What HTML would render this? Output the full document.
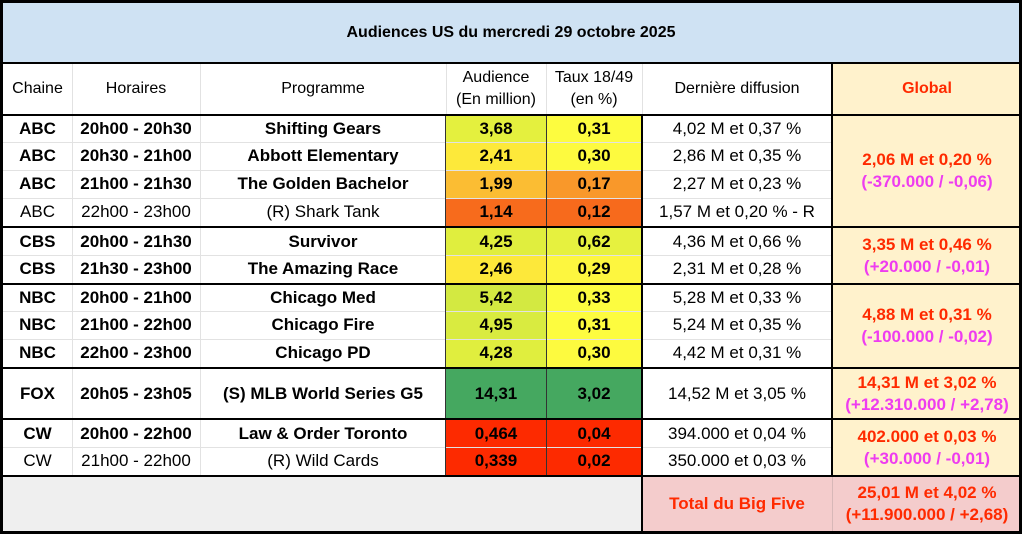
<!DOCTYPE html>
<html><head><meta charset="utf-8"><style>
body{margin:0;width:1022px;height:534px;background:#fff;position:relative;overflow:hidden;font-family:"Liberation Sans",Arial,sans-serif;color:#000}
.c{position:absolute;display:flex;align-items:center;justify-content:center;text-align:center;font-size:17px;line-height:22px;box-sizing:border-box;white-space:nowrap}
.b{font-weight:bold}
.h{position:absolute;background:#e2e2e2;height:1px}
.v{position:absolute;background:#e2e2e2;width:1px}
.k{background:#000}
.r{color:#ff2a00;font-weight:bold}
.m{color:#ee3cf0;font-weight:bold}
.hd{font-size:16px}
</style></head><body>
<div class="c" style="left:0;top:0;width:1022px;height:63px;background:#cfe2f3;font-weight:bold;font-size:16px;padding-top:2px">Audiences US du mercredi 29 octobre 2025</div>
<div class="c" style="left:832px;top:63px;width:190px;height:414px;background:#fff2cc"></div>
<div class="c" style="left:0;top:477px;width:642px;height:57px;background:#efefef"></div>
<div class="c" style="left:642px;top:477px;width:380px;height:57px;background:#f4cccc"></div>

<div class="c hd" style="left:3px;top:64px;width:69px;height:50px">Chaine</div>
<div class="c hd" style="left:72px;top:64px;width:128px;height:50px">Horaires</div>
<div class="c hd" style="left:200px;top:64px;width:246px;height:50px">Programme</div>
<div class="c hd" style="left:446px;top:64px;width:100px;height:50px">Audience<br>(En million)</div>
<div class="c hd" style="left:546px;top:64px;width:96px;height:50px">Taux 18/49<br>(en %)</div>
<div class="c hd" style="left:642px;top:64px;width:190px;height:50px">Dernière diffusion</div>
<div class="c r hd" style="left:832px;top:64px;width:190px;height:50px">Global</div>

<div class="c b" style="left:3px;top:116px;width:69px;height:26px">ABC</div><div class="c b" style="left:72px;top:116px;width:128px;height:26px">20h00 - 20h30</div><div class="c b" style="left:200px;top:116px;width:246px;height:26px">Shifting Gears</div><div class="c b" style="left:446px;top:116px;width:100px;height:26px;background:#e4f03e">3,68</div><div class="c b" style="left:546px;top:116px;width:96px;height:26px;background:#fdfc3f">0,31</div><div class="c" style="left:642px;top:116px;width:190px;height:26px">4,02 M et 0,37 %</div>
<div class="c b" style="left:3px;top:142px;width:69px;height:28px">ABC</div><div class="c b" style="left:72px;top:142px;width:128px;height:28px">20h30 - 21h00</div><div class="c b" style="left:200px;top:142px;width:246px;height:28px">Abbott Elementary</div><div class="c b" style="left:446px;top:142px;width:100px;height:28px;background:#fde93a">2,41</div><div class="c b" style="left:546px;top:142px;width:96px;height:28px;background:#fdfa3f">0,30</div><div class="c" style="left:642px;top:142px;width:190px;height:28px">2,86 M et 0,35 %</div>
<div class="c b" style="left:3px;top:170px;width:69px;height:28px">ABC</div><div class="c b" style="left:72px;top:170px;width:128px;height:28px">21h00 - 21h30</div><div class="c b" style="left:200px;top:170px;width:246px;height:28px">The Golden Bachelor</div><div class="c b" style="left:446px;top:170px;width:100px;height:28px;background:#fbbd33">1,99</div><div class="c b" style="left:546px;top:170px;width:96px;height:28px;background:#f9982a">0,17</div><div class="c" style="left:642px;top:170px;width:190px;height:28px">2,27 M et 0,23 %</div>
<div class="c" style="left:3px;top:198px;width:69px;height:28px">ABC</div><div class="c" style="left:72px;top:198px;width:128px;height:28px">22h00 - 23h00</div><div class="c" style="left:200px;top:198px;width:246px;height:28px">(R) Shark Tank</div><div class="c b" style="left:446px;top:198px;width:100px;height:28px;background:#f76b1c">1,14</div><div class="c b" style="left:546px;top:198px;width:96px;height:28px;background:#f76a1c">0,12</div><div class="c" style="left:642px;top:198px;width:190px;height:28px">1,57 M et 0,20 % - R</div>
<div class="c" style="left:832px;top:116px;width:190px;height:110px"><div><span class="r">2,06 M et 0,20 %</span><br><span class="m">(-370.000 / -0,06)</span></div></div>

<div class="c b" style="left:3px;top:228px;width:69px;height:27px">CBS</div><div class="c b" style="left:72px;top:228px;width:128px;height:27px">20h00 - 21h30</div><div class="c b" style="left:200px;top:228px;width:246px;height:27px">Survivor</div><div class="c b" style="left:446px;top:228px;width:100px;height:27px;background:#e0ee3e">4,25</div><div class="c b" style="left:546px;top:228px;width:96px;height:27px;background:#e6f13f">0,62</div><div class="c" style="left:642px;top:228px;width:190px;height:27px">4,36 M et 0,66 %</div>
<div class="c b" style="left:3px;top:255px;width:69px;height:28px">CBS</div><div class="c b" style="left:72px;top:255px;width:128px;height:28px">21h30 - 23h00</div><div class="c b" style="left:200px;top:255px;width:246px;height:28px">The Amazing Race</div><div class="c b" style="left:446px;top:255px;width:100px;height:28px;background:#fde83a">2,46</div><div class="c b" style="left:546px;top:255px;width:96px;height:28px;background:#fdf63f">0,29</div><div class="c" style="left:642px;top:255px;width:190px;height:28px">2,31 M et 0,28 %</div>
<div class="c" style="left:832px;top:228px;width:190px;height:55px"><div><span class="r">3,35 M et 0,46 %</span><br><span class="m">(+20.000 / -0,01)</span></div></div>

<div class="c b" style="left:3px;top:285px;width:69px;height:26px">NBC</div><div class="c b" style="left:72px;top:285px;width:128px;height:26px">20h00 - 21h00</div><div class="c b" style="left:200px;top:285px;width:246px;height:26px">Chicago Med</div><div class="c b" style="left:446px;top:285px;width:100px;height:26px;background:#d3e941">5,42</div><div class="c b" style="left:546px;top:285px;width:96px;height:26px;background:#fcfc40">0,33</div><div class="c" style="left:642px;top:285px;width:190px;height:26px">5,28 M et 0,33 %</div>
<div class="c b" style="left:3px;top:311px;width:69px;height:28px">NBC</div><div class="c b" style="left:72px;top:311px;width:128px;height:28px">21h00 - 22h00</div><div class="c b" style="left:200px;top:311px;width:246px;height:28px">Chicago Fire</div><div class="c b" style="left:446px;top:311px;width:100px;height:28px;background:#d9eb40">4,95</div><div class="c b" style="left:546px;top:311px;width:96px;height:28px;background:#fdfc3f">0,31</div><div class="c" style="left:642px;top:311px;width:190px;height:28px">5,24 M et 0,35 %</div>
<div class="c b" style="left:3px;top:339px;width:69px;height:28px">NBC</div><div class="c b" style="left:72px;top:339px;width:128px;height:28px">22h00 - 23h00</div><div class="c b" style="left:200px;top:339px;width:246px;height:28px">Chicago PD</div><div class="c b" style="left:446px;top:339px;width:100px;height:28px;background:#e0ee3e">4,28</div><div class="c b" style="left:546px;top:339px;width:96px;height:28px;background:#fdfa3f">0,30</div><div class="c" style="left:642px;top:339px;width:190px;height:28px">4,42 M et 0,31 %</div>
<div class="c" style="left:832px;top:285px;width:190px;height:82px"><div><span class="r">4,88 M et 0,31 %</span><br><span class="m">(-100.000 / -0,02)</span></div></div>

<div class="c b" style="left:3px;top:369px;width:69px;height:49px">FOX</div><div class="c b" style="left:72px;top:369px;width:128px;height:49px">20h05 - 23h05</div><div class="c b" style="left:200px;top:369px;width:246px;height:49px">(S) MLB World Series G5</div><div class="c b" style="left:446px;top:369px;width:100px;height:49px;background:#45a860">14,31</div><div class="c b" style="left:546px;top:369px;width:96px;height:49px;background:#45a860">3,02</div><div class="c" style="left:642px;top:369px;width:190px;height:49px">14,52 M et 3,05 %</div>
<div class="c" style="left:832px;top:369px;width:190px;height:49px"><div><span class="r">14,31 M et 3,02 %</span><br><span class="m">(+12.310.000 / +2,78)</span></div></div>

<div class="c b" style="left:3px;top:420px;width:69px;height:27px">CW</div><div class="c b" style="left:72px;top:420px;width:128px;height:27px">20h00 - 22h00</div><div class="c b" style="left:200px;top:420px;width:246px;height:27px">Law &amp; Order Toronto</div><div class="c b" style="left:446px;top:420px;width:100px;height:27px;background:#fd2a00">0,464</div><div class="c b" style="left:546px;top:420px;width:96px;height:27px;background:#fd2a00">0,04</div><div class="c" style="left:642px;top:420px;width:190px;height:27px">394.000 et 0,04 %</div>
<div class="c" style="left:3px;top:447px;width:69px;height:28px">CW</div><div class="c" style="left:72px;top:447px;width:128px;height:28px">21h00 - 22h00</div><div class="c" style="left:200px;top:447px;width:246px;height:28px">(R) Wild Cards</div><div class="c b" style="left:446px;top:447px;width:100px;height:28px;background:#fd2a00">0,339</div><div class="c b" style="left:546px;top:447px;width:96px;height:28px;background:#fd2a00">0,02</div><div class="c" style="left:642px;top:447px;width:190px;height:28px">350.000 et 0,03 %</div>
<div class="c" style="left:832px;top:420px;width:190px;height:55px"><div><span class="r">402.000 et 0,03 %</span><br><span class="m">(+30.000 / -0,01)</span></div></div>

<div class="c r" style="left:642px;top:477px;width:190px;height:54px">Total du Big Five</div>
<div class="c" style="left:832px;top:477px;width:190px;height:54px"><div><span class="r">25,01 M et 4,02 %<br>(+11.900.000 / +2,68)</span></div></div>

<div class="h" style="left:3px;top:142px;width:829px"></div>
<div class="h" style="left:3px;top:170px;width:829px"></div>
<div class="h" style="left:3px;top:198px;width:829px"></div>
<div class="h" style="left:3px;top:255px;width:829px"></div>
<div class="h" style="left:3px;top:311px;width:829px"></div>
<div class="h" style="left:3px;top:339px;width:829px"></div>
<div class="h" style="left:3px;top:447px;width:829px"></div>
<div class="v" style="left:72px;top:64px;height:413px"></div>
<div class="v" style="left:200px;top:64px;height:413px"></div>
<div class="v" style="left:446px;top:64px;height:52px"></div>
<div class="v" style="left:546px;top:64px;height:52px"></div>
<div class="v" style="left:642px;top:64px;height:52px"></div>
<div class="v" style="left:832px;top:477px;height:54px;background:#d8b8b8"></div>

<div class="h k" style="left:445px;top:116px;width:1px;height:361px;background:#333"></div>
<div class="h k" style="left:546px;top:116px;width:1px;height:361px;background:#333"></div>
<div class="h k" style="left:641px;top:116px;width:2px;height:418px"></div>
<div class="h k" style="left:831px;top:64px;width:2px;height:413px"></div>
<div class="h k" style="left:0;top:62px;width:1022px;height:2px"></div>
<div class="h k" style="left:0;top:114px;width:1022px;height:2px"></div>
<div class="h k" style="left:0;top:226px;width:1022px;height:2px"></div>
<div class="h k" style="left:0;top:283px;width:1022px;height:2px"></div>
<div class="h k" style="left:0;top:367px;width:1022px;height:2px"></div>
<div class="h k" style="left:0;top:418px;width:1022px;height:2px"></div>
<div class="h k" style="left:0;top:475px;width:1022px;height:2px"></div>
<div style="position:absolute;left:0;top:0;width:1016px;height:528px;border:3px solid #000"></div>
</body></html>
